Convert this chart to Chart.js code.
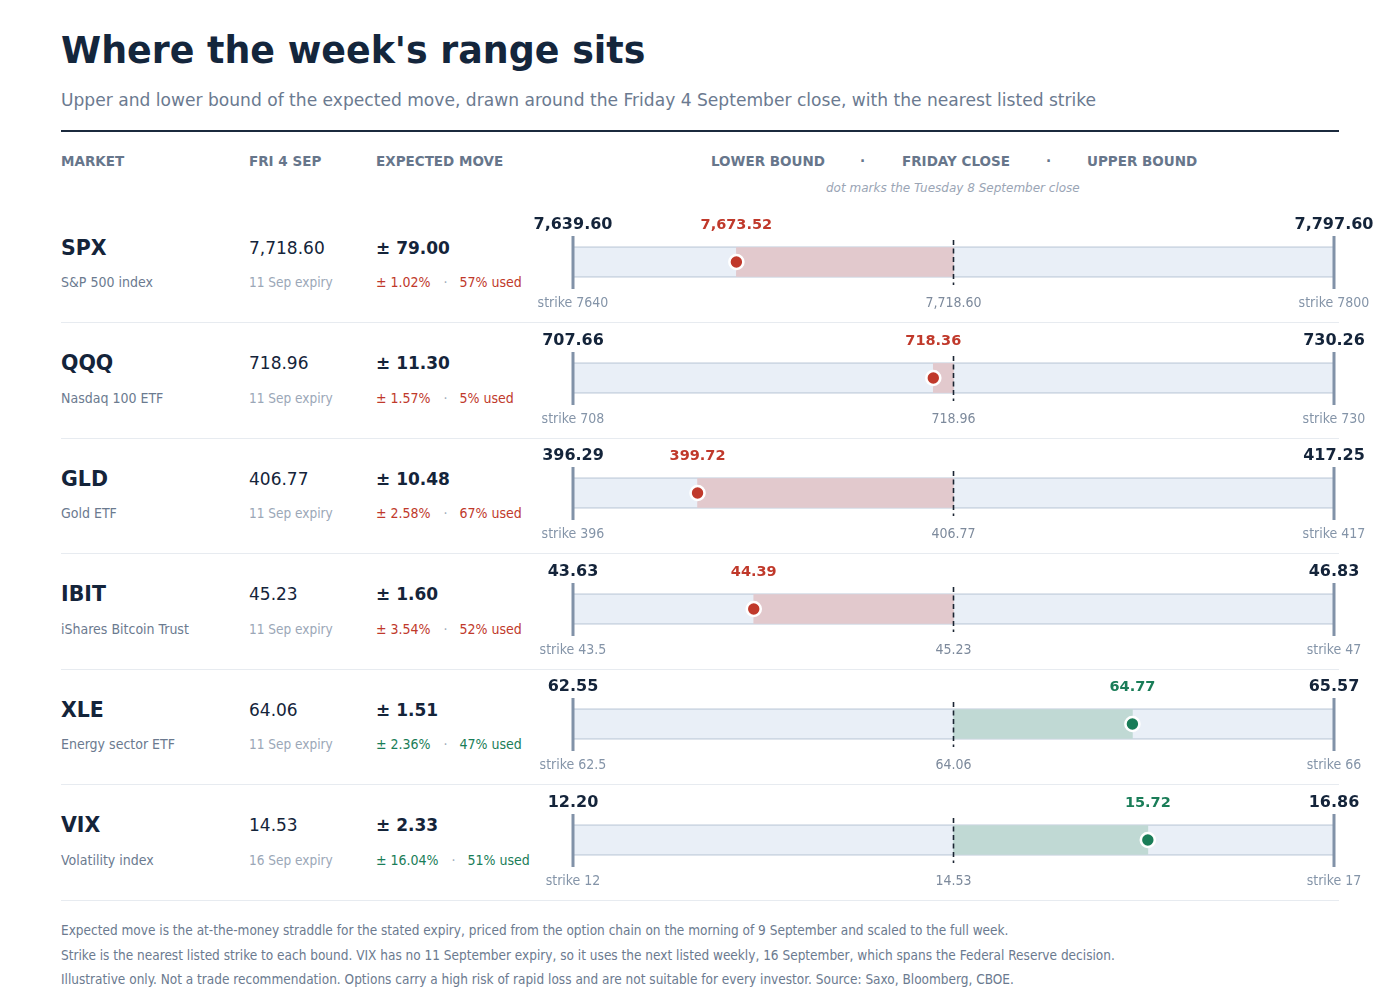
<!DOCTYPE html>
<html><head><meta charset="utf-8">
<script src="https://cdn.jsdelivr.net/npm/chart.js@4.4.1/dist/chart.umd.min.js"></script>
<style>
html,body{margin:0;padding:0;background:#fff;}
body{width:1400px;height:1006px;position:relative;overflow:hidden;font-family:"DejaVu Sans",sans-serif;}
.abs{position:absolute;white-space:nowrap;line-height:1;}
.cond{font-family:"DejaVu Sans Condensed","DejaVu Sans",sans-serif;font-stretch:condensed;}
.hdr{font-size:13.5px;font-weight:bold;color:#67768b;}
.sep{position:absolute;left:61px;width:1278px;height:1px;background:#e7ebf0;}
canvas{position:absolute;}
</style></head><body>
<div class="abs" style="left:61px;top:33px;font-size:36.4px;font-weight:bold;color:#14263c;">Where the week's range sits</div>
<div class="abs" style="left:61px;top:91.5px;font-size:17.1px;color:#6b7a90;">Upper and lower bound of the expected move, drawn around the Friday 4 September close, with the nearest listed strike</div>
<div style="position:absolute;left:61px;top:130px;width:1278px;height:2px;background:#1b2a3d;"></div>
<div class="abs hdr" style="left:61px;top:155px;">MARKET</div>
<div class="abs hdr" style="left:249px;top:155px;">FRI 4 SEP</div>
<div class="abs hdr" style="left:376px;top:155px;">EXPECTED MOVE</div>
<div class="abs hdr" style="left:711px;top:155px;">LOWER BOUND</div>
<div class="abs hdr" style="left:860px;top:155px;">·</div>
<div class="abs hdr" style="left:902px;top:155px;">FRIDAY CLOSE</div>
<div class="abs hdr" style="left:1046px;top:155px;">·</div>
<div class="abs hdr" style="left:1087px;top:155px;">UPPER BOUND</div>
<div class="abs" style="left:826px;top:182px;font-size:12px;font-style:italic;color:#9aa5b5;">dot marks the Tuesday 8 September close</div>
<div id="rows"></div>
<div class="abs cond" style="left:61px;top:923.5px;font-size:13.5px;color:#6b7a8f;">Expected move is the at-the-money straddle for the stated expiry, priced from the option chain on the morning of 9 September and scaled to the full week.</div>
<div class="abs cond" style="left:61px;top:948.5px;font-size:13.5px;color:#6b7a8f;">Strike is the nearest listed strike to each bound. VIX has no 11 September expiry, so it uses the next listed weekly, 16 September, which spans the Federal Reserve decision.</div>
<div class="abs cond" style="left:61px;top:972.5px;font-size:13.5px;color:#6b7a8f;">Illustrative only. Not a trade recommendation. Options carry a high risk of rapid loss and are not suitable for every investor. Source: Saxo, Bloomberg, CBOE.</div>
<script>
const tickers = ['SPX','QQQ','GLD','IBIT','XLE','VIX'];
const names = ['S&P 500 index','Nasdaq 100 ETF','Gold ETF','iShares Bitcoin Trust','Energy sector ETF','Volatility index'];
const expiry = ['11 Sep','11 Sep','11 Sep','11 Sep','11 Sep','16 Sep'];
const fridayClose = [7718.60, 718.96, 406.77, 45.23, 64.06, 14.53];
const expectedMove = [79.00, 11.30, 10.48, 1.60, 1.51, 2.33];
const movePct = [1.02, 1.57, 2.58, 3.54, 2.36, 16.04];
const usedPct = [57, 5, 67, 52, 47, 51];
const lowerBound = [7639.60, 707.66, 396.29, 43.63, 62.55, 12.20];
const upperBound = [7797.60, 730.26, 417.25, 46.83, 65.57, 16.86];
const tuesdayClose = [7673.52, 718.36, 399.72, 44.39, 64.77, 15.72];
const lowerStrike = ['7640','708','396','43.5','62.5','12'];
const upperStrike = ['7800','730','417','47','66','17'];

const DARK = '#14243a', RED = '#c0392b', GREEN = '#1a7d58';
const RED_FILL = '#e2c9cd', GREEN_FILL = '#c0d9d4';
const fmt = v => v.toLocaleString('en-US',{minimumFractionDigits:2, maximumFractionDigits:2});

const rowsEl = document.getElementById('rows');
const ROW_H = 115.5, ROW0 = 207;

const labelPlugin = {
  id:'rowLabels',
  afterDatasetsDraw(chart, args, opts){
    const i = opts.row;
    const {ctx} = chart; const x = chart.scales.x, y = chart.scales.y;
    const col = tuesdayClose[i] < fridayClose[i] ? RED : GREEN;
    ctx.save();
    ctx.textAlign = 'center'; ctx.textBaseline = 'alphabetic';
    ctx.font = 'bold 16px "DejaVu Sans"'; ctx.fillStyle = DARK;
    ctx.fillText(fmt(lowerBound[i]), x.getPixelForValue(lowerBound[i]), y.getPixelForValue(22));
    ctx.fillText(fmt(upperBound[i]), x.getPixelForValue(upperBound[i]), y.getPixelForValue(22));
    ctx.font = 'bold 14.5px "DejaVu Sans"'; ctx.fillStyle = col;
    ctx.fillText(fmt(tuesdayClose[i]), x.getPixelForValue(tuesdayClose[i]), y.getPixelForValue(21.5));
    ctx.font = '14px "DejaVu Sans Condensed", "DejaVu Sans"'; ctx.fillStyle = '#8494a8';
    ctx.fillText('strike ' + lowerStrike[i], x.getPixelForValue(lowerBound[i]), y.getPixelForValue(100));
    ctx.fillText('strike ' + upperStrike[i], x.getPixelForValue(upperBound[i]), y.getPixelForValue(100));
    ctx.fillStyle = '#7d8a9c';
    ctx.fillText(fmt(fridayClose[i]), x.getPixelForValue(fridayClose[i]), y.getPixelForValue(100));
    ctx.restore();
  }
};

tickers.forEach((t, i) => {
  const top = ROW0 + i*ROW_H;
  const up = tuesdayClose[i] >= fridayClose[i];
  const col = up ? GREEN : RED;
  const html = `
  <div class="abs" style="left:61px;top:${top+41-10.25}px;font-size:20.5px;font-weight:bold;color:${DARK};">${t}</div>
  <div class="abs cond" style="left:61px;top:${top+75-7}px;font-size:14px;color:#6b7a8f;">${names[i].replace('&','&amp;')}</div>
  <div class="abs" style="left:249px;top:${top+41-8.5}px;font-size:17px;color:${DARK};">${fmt(fridayClose[i])}</div>
  <div class="abs cond" style="left:249px;top:${top+76-6.75}px;font-size:13.5px;color:#9ba7b7;">${expiry[i]} expiry</div>
  <div class="abs" style="left:376px;top:${top+41-8.5}px;font-size:17px;font-weight:bold;color:${DARK};">± ${fmt(expectedMove[i])}</div>
  <div class="abs cond" style="left:376px;top:${top+75-7}px;font-size:14px;color:${col};">± ${movePct[i].toFixed(2)}%<span style="color:#a0abba;margin:0 12px 0 13px;">·</span>${usedPct[i]}% used</div>
  <div class="sep" style="top:${top+115}px;"></div>
  <canvas id="c${i}" width="880" height="115" style="left:520px;top:${top}px;width:880px;height:115px;"></canvas>`;
  rowsEl.insertAdjacentHTML('beforeend', html);
});

tickers.forEach((t, i) => {
  const up = tuesdayClose[i] >= fridayClose[i];
  const col = up ? GREEN : RED;
  new Chart(document.getElementById('c'+i), {
    type: 'bar',
    data: {
      datasets: [
        { type:'line', data:[{x:tuesdayClose[i], y:55}], showLine:false, pointRadius:7, pointHoverRadius:7,
          pointBackgroundColor:col, pointBorderColor:'#ffffff', pointBorderWidth:2.6, order:1, clip:false },
        { type:'line', data:[{x:fridayClose[i], y:33},{x:fridayClose[i], y:78}], borderColor:'#1b2533', borderWidth:1.6,
          borderDash:[5,3.5], pointRadius:0, order:2, clip:false },
        { type:'line', data:[{x:lowerBound[i], y:29},{x:lowerBound[i], y:82}], borderColor:'#8192a8', borderWidth:3,
          pointRadius:0, order:3, clip:false },
        { type:'line', data:[{x:upperBound[i], y:29},{x:upperBound[i], y:82}], borderColor:'#8192a8', borderWidth:3,
          pointRadius:0, order:3, clip:false },
        { type:'bar', indexAxis:'y', data:[{x:[fridayClose[i], tuesdayClose[i]], y:55}], backgroundColor: up ? GREEN_FILL : RED_FILL,
          borderWidth:0, barThickness:29, order:4, clip:false },
        { type:'bar', indexAxis:'y', data:[{x:[lowerBound[i], upperBound[i]], y:55}], backgroundColor:'#e9eff7',
          borderColor:'#c5d0de', borderWidth:{top:1.5,bottom:1.5,left:0,right:0}, borderSkipped:false, barThickness:31, order:5, clip:false }
      ]
    },
    options: {
      responsive:false, animation:false, events:[],
      layout:{ autoPadding:false, padding:{ left:53, right:66, top:0, bottom:0 } },
      datasets:{ bar:{ grouped:false } },
      scales:{
        x:{ type:'linear', min:lowerBound[i], max:upperBound[i], offset:false, grace:0, display:false },
        y:{ type:'linear', min:0, max:115, reverse:true, offset:false, grace:0, display:false }
      },
      plugins:{ legend:{display:false}, tooltip:{enabled:false}, rowLabels:{ row:i } }
    },
    plugins:[labelPlugin]
  });
});
</script>
</body></html>
